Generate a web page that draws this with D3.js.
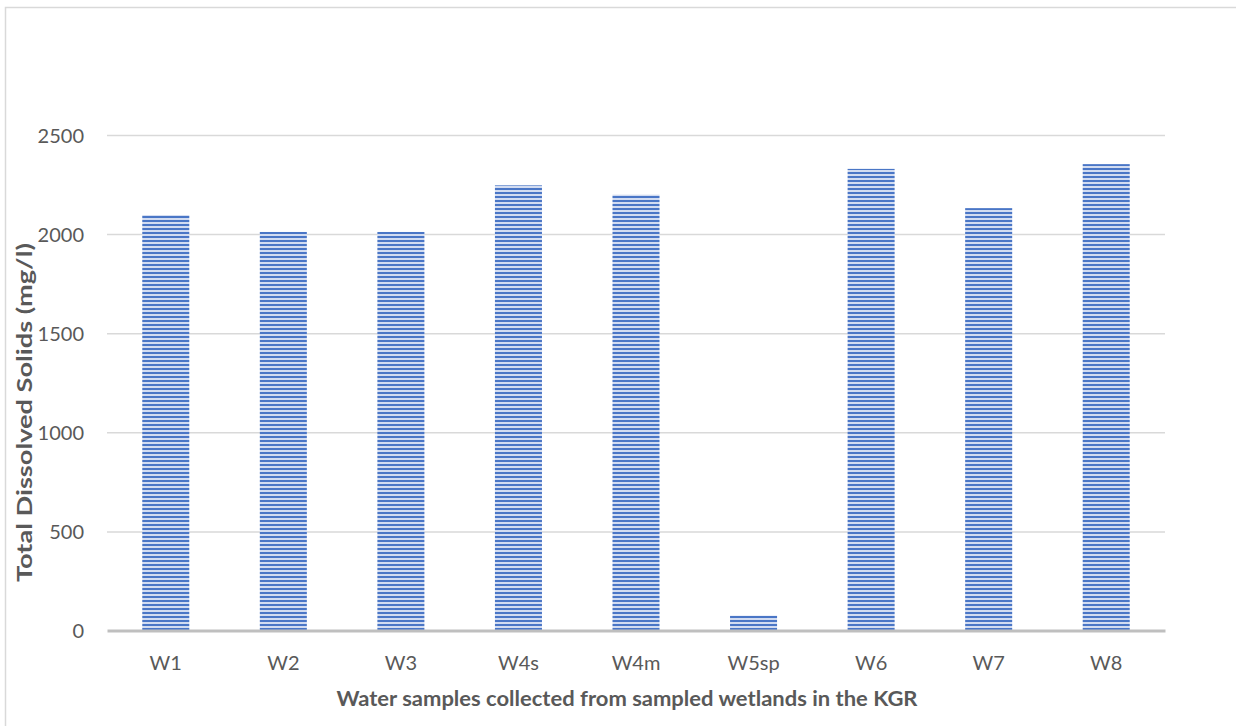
<!DOCTYPE html>
<html>
<head>
<meta charset="utf-8">
<script src="https://cdn.jsdelivr.net/npm/d3@7/dist/d3.min.js"></script>
<style>
  html, body { margin: 0; padding: 0; background: #ffffff; }
  svg { display: block; }
  text { font-family: Lato, "Open Sans", sans-serif; fill: #595959; }
</style>
</head>
<body>
<script>
const categories = ["W1", "W2", "W3", "W4s", "W4m", "W5sp", "W6", "W7", "W8"];
const tdsValues = [2096, 2011, 2011, 2246, 2199, 75, 2329, 2131, 2353];
const yTicks = [0, 500, 1000, 1500, 2000, 2500];
const xTitle = "Water samples collected from sampled wetlands in the KGR";
const yTitle = "Total Dissolved Solids (mg/l)";

const W = 1236, H = 726;
const svg = d3.select("body").append("svg").attr("width", W).attr("height", H);

// pattern for bars (horizontal narrow stripes)
const defs = svg.append("defs");
const pat = defs.append("pattern").attr("id", "hstripe")
  .attr("patternUnits", "userSpaceOnUse").attr("width", 8).attr("height", 4);
pat.append("rect").attr("width", 8).attr("height", 4).attr("fill", "#d2dcf1");
pat.append("rect").attr("width", 8).attr("height", 2).attr("fill", "#4a76c6");

// outer chart border (extends beyond right/bottom edges)
svg.append("rect").attr("x", 5.5).attr("y", 7.5).attr("width", 1300).attr("height", 800)
  .attr("fill", "none").attr("stroke", "#d9d9d9").attr("stroke-width", 1.5);

const x = d3.scaleBand().domain(categories).range([107, 1165]).paddingInner(0.6).paddingOuter(0.3);
const y = d3.scaleLinear().domain([0, 2500]).range([630.5, 135]);

// gridlines
const grid = svg.append("g")
  .attr("transform", "translate(107,0)")
  .call(d3.axisLeft(y).tickValues(yTicks.filter(d => d > 0)).tickSize(-(1165 - 107)).tickFormat(""));
grid.select(".domain").remove();
grid.selectAll("line").attr("stroke", "#d9d9d9").attr("stroke-width", 1.5);

// y tick labels
const yAx = svg.append("g").attr("transform", "translate(84,0)")
  .call(d3.axisLeft(y).tickValues(yTicks).tickSize(0).tickPadding(0).tickFormat(d3.format("d")));
yAx.select(".domain").remove();
yAx.selectAll("text").attr("font-size", 20).attr("fill", "#595959")
  .attr("font-family", "Lato, 'Open Sans', sans-serif").attr("dy", "0.36em");

// bars
svg.append("g").selectAll("rect").data(categories).join("rect")
  .attr("x", d => x(d))
  .attr("width", x.bandwidth())
  .attr("y", (d, i) => y(tdsValues[i]))
  .attr("height", (d, i) => y(0) - y(tdsValues[i]))
  .attr("fill", "url(#hstripe)");

// x axis
const xAx = svg.append("g").attr("transform", "translate(0,630.5)")
  .call(d3.axisBottom(x).tickSize(0).tickPadding(0));
xAx.select(".domain").attr("stroke", "#bfbfbf").attr("stroke-width", 3);
xAx.selectAll("text").attr("font-size", 20).attr("fill", "#595959")
  .attr("font-family", "Lato, 'Open Sans', sans-serif").attr("dy", "0").attr("y", 39);

// axis titles
svg.append("text").attr("x", 627).attr("y", 706).attr("text-anchor", "middle")
  .attr("font-size", 21.5).attr("font-weight", "bold")
  .attr("textLength", 581).attr("lengthAdjust", "spacingAndGlyphs").text(xTitle);
svg.append("text").attr("transform", "translate(31.5,412.5) rotate(-90)").attr("text-anchor", "middle")
  .attr("font-size", 21).attr("font-weight", "bold")
  .attr("textLength", 339).attr("lengthAdjust", "spacingAndGlyphs").text(yTitle);
</script>
</body>
</html>
